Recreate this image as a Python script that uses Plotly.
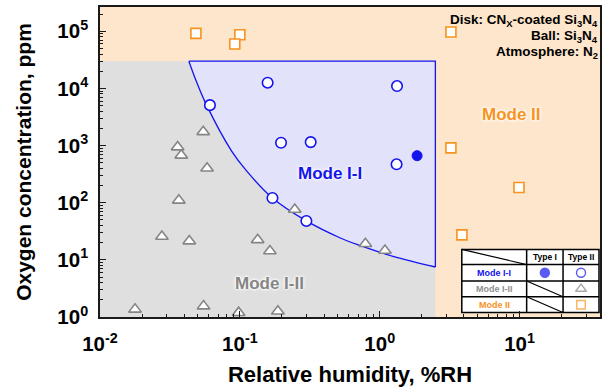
import plotly.graph_objects as go

# ---- measurements: relative humidity (%RH) and oxygen concentration (ppm) ----
# Type I, Mode I-I (filled circle)
rh_type1_mode11 = [1.85]
o2_type1_mode11 = [665]

# Type II, Mode I-I (open circles)
rh_type2_mode11 = [0.158, 0.0611, 0.197, 0.321, 1.33, 1.32, 0.171, 0.299]
o2_type2_mode11 = [12600, 5100, 1120, 1150, 11000, 470, 121, 48]

# Type II, Mode I-II (open triangles)
rh_type2_mode12 = [0.0547, 0.0359, 0.0381, 0.0583, 0.0366, 0.247, 0.0277, 0.0435,
                   0.134, 0.164, 0.0178, 0.055, 0.098, 0.187, 0.79, 1.09]
o2_type2_mode12 = [1740, 940, 675, 400, 110, 76, 25.6, 21.3,
                   22.4, 14.3, 1.36, 1.55, 1.19, 1.26, 19.1, 14.6]

# Type II, Mode II (open squares)
rh_type2_mode2 = [0.0485, 0.100, 0.092, 3.23, 3.23, 9.9, 3.87]
o2_type2_mode2 = [92000, 87000, 60000, 97000, 910, 185, 27.4]

# ---- mode map boundaries ----
RH_MIN, RH_LIMIT = 0.01, 2.5       # left edge of map, humidity limit of Mode I
O2_MIN, O2_LIMIT = 1.0, 30000      # bottom edge of map, oxygen limit of Mode I
# Mode I-I / Mode I-II boundary curve
boundary_rh = [0.0432, 0.0489, 0.0578, 0.0873, 0.1117, 0.171, 0.299, 0.518, 0.72, 1.245, 2.5]
boundary_o2 = [30000, 13200, 5100, 802, 360, 121, 48, 24.4, 17.9, 11.5, 7.5]

# ---- tick labels ----
x_tickvals = [0.01, 0.1, 1, 10]
x_ticktext = ["10<sup>-2</sup>", "10<sup>-1</sup>", "10<sup>0</sup>", "10<sup>1</sup>"]
y_tickvals = [1, 10, 100, 1000, 10000, 100000]
y_ticktext = ["10<sup>0</sup>", "10<sup>1</sup>", "10<sup>2</sup>",
              "10<sup>3</sup>", "10<sup>4</sup>", "10<sup>5</sup>"]

FONT = "Liberation Sans, Arial, Helvetica, sans-serif"
BLUE = "#1414EE"
GRAY = "#858585"
ORANGE = "#F7931E"
HALO = "0px 0px 2px white, 0px 0px 3px white, 0px 0px 4px white"

fig = go.Figure()

# Mode I-II region (grey rectangle below both limits)
fig.add_trace(go.Scatter(
    x=[RH_MIN, RH_LIMIT, RH_LIMIT, RH_MIN], y=[O2_MIN, O2_MIN, O2_LIMIT, O2_LIMIT],
    mode="none", fill="toself", fillcolor="#DFDFDF", hoverinfo="skip", showlegend=False))

# Mode I-I region: top and right edges, then boundary curve filled to them
fig.add_trace(go.Scatter(
    x=[boundary_rh[0], RH_LIMIT, RH_LIMIT], y=[O2_LIMIT, O2_LIMIT, boundary_o2[-1]],
    mode="lines", line=dict(color=BLUE, width=1.3), hoverinfo="skip", showlegend=False))
fig.add_trace(go.Scatter(
    x=boundary_rh, y=boundary_o2, mode="lines",
    line=dict(color=BLUE, width=1.3, shape="spline", smoothing=1.0),
    fill="tonexty", fillcolor="#E2E2FB", hoverinfo="skip", showlegend=False))

marker_line = 1.6
fig.add_trace(go.Scatter(
    x=rh_type2_mode12, y=o2_type2_mode12, mode="markers", showlegend=False,
    marker=dict(symbol="triangle-up", size=11, color="white",
                line=dict(color=GRAY, width=marker_line))))
fig.add_trace(go.Scatter(
    x=rh_type2_mode2, y=o2_type2_mode2, mode="markers", showlegend=False,
    marker=dict(symbol="square", size=10, color="white",
                line=dict(color=ORANGE, width=marker_line))))
fig.add_trace(go.Scatter(
    x=rh_type2_mode11, y=o2_type2_mode11, mode="markers", showlegend=False,
    marker=dict(symbol="circle", size=10.5, color="white",
                line=dict(color=BLUE, width=marker_line))))
fig.add_trace(go.Scatter(
    x=rh_type1_mode11, y=o2_type1_mode11, mode="markers", showlegend=False,
    marker=dict(symbol="circle", size=10, color=BLUE, line=dict(color=BLUE, width=1))))

# ---- key table (paper coordinates) ----
col_edges = [0.7236, 0.8533, 0.9261, 0.998]
row_edges = [0.218, 0.169, 0.1163, 0.0651, 0.0144]
shapes = [dict(type="rect", xref="paper", yref="paper", layer="below",
               x0=col_edges[0], x1=col_edges[-1], y0=row_edges[-1], y1=row_edges[0],
               fillcolor="white", line=dict(color="black", width=1.5))]
for cx in col_edges[1:-1]:
    shapes.append(dict(type="line", xref="paper", yref="paper", layer="below",
                       x0=cx, x1=cx, y0=row_edges[-1], y1=row_edges[0],
                       line=dict(color="black", width=1.5)))
for ry in row_edges[1:-1]:
    shapes.append(dict(type="line", xref="paper", yref="paper", layer="below",
                       x0=col_edges[0], x1=col_edges[-1], y0=ry, y1=ry,
                       line=dict(color="black", width=1.5)))
# diagonal strokes: header corner, and empty Type I cells
for (c0, c1, r0, r1) in [(0, 1, 0, 1), (1, 2, 2, 3), (1, 2, 3, 4)]:
    shapes.append(dict(type="line", xref="paper", yref="paper", layer="below",
                       x0=col_edges[c0], x1=col_edges[c1],
                       y0=row_edges[r0], y1=row_edges[r1],
                       line=dict(color="black", width=1.2)))

def mid(a, i):
    return (a[i] + a[i + 1]) / 2

annotations = []
for col, txt in [(1, "Type I"), (2, "Type II")]:
    annotations.append(dict(xref="paper", yref="paper", x=mid(col_edges, col),
                            y=mid(row_edges, 0), text=txt, showarrow=False,
                            xanchor="center", yanchor="middle",
                            font=dict(family=FONT, size=8.5, color="black", weight="bold")))
for row, txt, color in [(1, "Mode I-I", BLUE), (2, "Mode I-II", "#8F8F8F"), (3, "Mode II", ORANGE)]:
    annotations.append(dict(xref="paper", yref="paper", x=mid(col_edges, 0),
                            y=mid(row_edges, row), text=txt, showarrow=False,
                            xanchor="center", yanchor="middle",
                            font=dict(family=FONT, size=9, color=color, weight="bold")))

# key markers on an overlay axis spanning the plot in paper units
key_x = [mid(col_edges, 1), mid(col_edges, 2), mid(col_edges, 2), mid(col_edges, 2)]
key_y = [mid(row_edges, 1), mid(row_edges, 1), mid(row_edges, 2), mid(row_edges, 3)]
key_symbol = ["circle", "circle", "triangle-up", "square"]
key_fill = [BLUE, "white", "white", "white"]
key_line = [BLUE, BLUE, GRAY, ORANGE]
key_size = [9, 9, 9.5, 8.5]
fig.add_trace(go.Scatter(
    x=key_x, y=key_y, xaxis="x2", yaxis="y2", mode="markers", showlegend=False,
    hoverinfo="skip",
    marker=dict(symbol=key_symbol, size=key_size, color=key_fill,
                line=dict(color=key_line, width=1.4))))

# region labels (log10 units on log axes)
annotations += [
    dict(x=-0.357, y=2.52, xref="x", yref="y", text="Mode I-I", showarrow=False,
         font=dict(family=FONT, size=17, color=BLUE, weight="bold", shadow=HALO)),
    dict(x=-0.79, y=0.59, xref="x", yref="y", text="Mode I-II", showarrow=False,
         font=dict(family=FONT, size=17, color=GRAY, weight="bold", shadow=HALO)),
    dict(x=0.943, y=3.55, xref="x", yref="y", text="Mode II", showarrow=False,
         font=dict(family=FONT, size=17, color=ORANGE, weight="bold", shadow=HALO)),
]
# test conditions
for i, line in enumerate(["Disk: CN<sub>X</sub>-coated Si<sub>3</sub>N<sub>4</sub>",
                          "Ball: Si<sub>3</sub>N<sub>4</sub>",
                          "Atmosphere: N<sub>2</sub>"]):
    annotations.append(dict(xref="paper", yref="paper", x=0.999, y=0.958 - i * 0.053,
                            xanchor="right", yanchor="middle", text=line, showarrow=False,
                            font=dict(family=FONT, size=13.5, color="black", weight="bold")))

minor_x = [k * 10.0 ** e for e in range(-2, 2) for k in range(2, 10)]
minor_y = [k * 10.0 ** e for e in range(0, 6) for k in range(2, 10)]

axis_common = dict(
    type="log", showline=True, mirror=True, linecolor="#1a1a1a", linewidth=1.5,
    ticks="inside", ticklen=6, tickwidth=1.3, tickcolor="#1a1a1a",
    showgrid=False, zeroline=False,
    tickfont=dict(family=FONT, size=20.5, color="black", weight="bold"),
)

fig.update_layout(
    width=607, height=390,
    margin=dict(l=100, r=6, t=5, b=73),
    paper_bgcolor="white", plot_bgcolor="#FDE6CB",
    shapes=shapes, annotations=annotations,
    xaxis=dict(axis_common, range=[-2, 1.575], tickmode="array",
               tickvals=x_tickvals, ticktext=x_ticktext, ticklabelstandoff=8,
               minor=dict(tickmode="array", tickvals=minor_x, ticks="inside",
                          ticklen=3.5, tickwidth=1, tickcolor="#1a1a1a"),
               title=dict(text="Relative humidity, %RH", standoff=12,
                          font=dict(family=FONT, size=22, color="black", weight="bold"))),
    yaxis=dict(axis_common, range=[0, 5.425], tickmode="array",
               tickvals=y_tickvals, ticktext=y_ticktext, ticklabelstandoff=6,
               minor=dict(tickmode="array", tickvals=minor_y, ticks="inside",
                          ticklen=3.5, tickwidth=1, tickcolor="#1a1a1a"),
               title=dict(text="Oxygen concentration, ppm", standoff=20,
                          font=dict(family=FONT, size=21, color="black", weight="bold"))),
    xaxis2=dict(overlaying="x", range=[0, 1], visible=False),
    yaxis2=dict(overlaying="y", range=[0, 1], visible=False),
)

fig.write_html("out.html")
